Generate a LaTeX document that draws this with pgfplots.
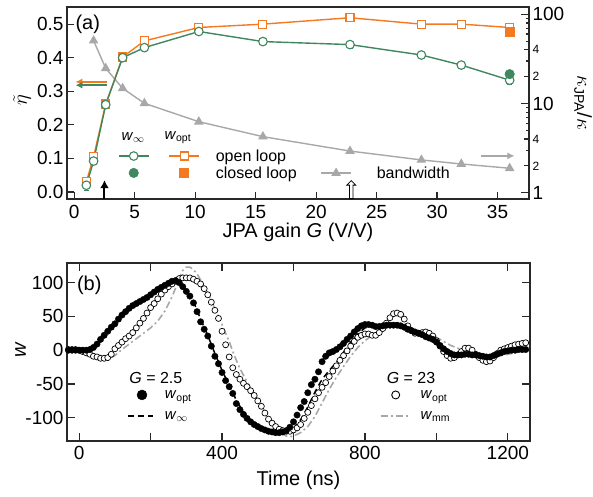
\documentclass[border=0pt]{standalone}
\usepackage{fontspec}
\setmainfont{Liberation Sans}
\usepackage{pgfplots}
\usepackage{pgfplotstable}
\pgfplotsset{compat=1.18}
\usetikzlibrary{arrows.meta,shapes.arrows}
\definecolor{cgreen}{RGB}{62,135,95}
\definecolor{corange}{RGB}{244,121,32}
\definecolor{cgray}{RGB}{168,168,168}
\definecolor{caxis}{RGB}{40,40,40}
\newcommand{\fs}[1]{\fontsize{#1}{#1}\selectfont}

\pgfplotstableread{
G eta err
1.0 0.020 0.015
1.6 0.092 0.010
2.6 0.260 0.008
4.0 0.400 0.008
5.8 0.430 0.010
10.3 0.478 0.008
15.6 0.448 0.008
22.8 0.439 0.010
28.7 0.408 0.010
32.0 0.378 0.008
36.0 0.333 0.012
}\greenopen
\pgfplotstableread{
G eta err
1.0 0.030 0.008
1.6 0.105 0.008
2.6 0.262 0.006
4.0 0.402 0.006
5.8 0.450 0.006
10.3 0.490 0.006
15.6 0.500 0.006
22.8 0.519 0.006
28.7 0.500 0.006
32.0 0.500 0.006
36.0 0.490 0.008
}\orangeopen
\pgfplotstableread{
G k
1.6 50.6
2.6 24.8
4.0 14.8
5.8 10.05
10.3 6.25
15.6 4.25
22.8 2.93
28.7 2.33
32.0 2.10
36.0 1.88
}\bandwidth
\pgfplotstableread{
t w
-30 0
-20 0
-10 0
0 0
10 0
20 0
30 1
40 4
50 9
60 16
70 22
80 28
90 34
100 39
110 46
120 52
130 57
140 62
150 66
160 69
170 72
180 75
190 78
200 82
210 86
220 90
230 93
240 96
250 99
260 102
270 103
280 100
290 94
300 87
310 80
320 70
330 57
340 42
350 31
360 21
370 6
380 -9
390 -20
400 -33
410 -45
420 -54
430 -64
440 -79
450 -88
460 -95
470 -101
480 -106
490 -110
500 -113
510 -116
520 -118
530 -120
540 -121
550 -122
560 -122
570 -121
580 -119
590 -114
600 -106
610 -96
620 -85
630 -76
640 -63
650 -51
660 -43
670 -32
680 -17
690 -9
700 -4
710 -2
720 1
730 5
740 10
750 16
760 21
770 27
780 32
790 36
800 38
810 38
820 37
830 35
840 35
850 36
860 37
870 37
880 37
890 37
900 36
910 34
920 31
930 29
940 27
950 25
960 23
970 20
980 18
990 16
1000 12
1010 7
1020 2
1030 -2
1040 -5
1050 -7
1060 -7
1070 -7
1080 -6
1090 -6
1100 -7
1110 -7
1120 -8
1130 -9
1140 -10
1150 -10
1160 -8
1170 -6
1180 -4
1190 -2
1200 -1
1210 0
1220 0
1230 1
1240 1
1250 1
}\wopta
\pgfplotstableread{
t w
-30 1
-20 1
-10 1
0 0
10 -2
20 -4
30 -6
40 -9
50 -10
60 -12
70 -12
80 -11
90 -6
100 2
110 7
120 12
130 17
140 21
150 26
160 33
170 40
180 47
190 55
200 63
210 69
220 76
230 83
240 89
250 94
260 98
270 102
280 106
290 107
300 107
310 107
320 105
330 102
340 98
350 91
360 82
370 71
380 59
390 47
400 28
410 8
420 -10
430 -26
440 -36
450 -43
460 -49
470 -54
480 -60
490 -67
500 -75
510 -83
520 -93
530 -102
540 -108
550 -113
560 -117
570 -119
580 -120
590 -120
600 -118
610 -115
620 -110
630 -101
640 -92
650 -82
660 -72
670 -63
680 -55
690 -48
700 -39
710 -31
720 -23
730 -15
740 -8
750 -1
760 6
770 13
780 19
790 22
800 24
810 24
820 22
830 22
840 26
850 32
860 40
870 48
880 54
890 55
900 53
910 46
920 36
930 29
940 25
950 25
960 26
970 27
980 25
990 21
1000 14
1010 6
1020 -2
1030 -8
1040 -12
1050 -11
1060 -7
1070 -2
1080 3
1090 3
1100 0
1110 -6
1120 -11
1130 -15
1140 -17
1150 -16
1160 -11
1170 -5
1180 0
1190 2
1200 4
1210 6
1220 8
1230 9
1240 10
1250 11
}\woptb
\pgfplotstableread{
t w
-30 0
0 0
20 0
40 3
60 14
80 28
100 39
120 51
140 62
160 69
180 75
200 82
220 90
240 96
260 101
280 100
300 88
320 72
340 46
360 22
380 -5
400 -30
420 -52
440 -74
460 -92
480 -104
500 -112
520 -117
540 -121
560 -123
580 -122
600 -116
620 -103
640 -84
660 -62
680 -43
700 -30
720 -18
740 -3
760 12
780 24
800 33
820 36
840 35
860 36
880 36
900 35
920 31
940 27
960 23
980 18
1000 13
1020 5
1040 -2
1060 -6
1080 -6
1100 -7
1120 -8
1140 -9
1160 -8
1180 -4
1200 -1
1220 0
1250 1
}\winf
\pgfplotstableread{
t w
-30 0
0 -1
20 -5
40 -10
60 -13
80 -14
100 -8
120 1
140 9
160 17
180 25
200 33
220 43
240 58
260 79
270 92
280 106
290 118
300 123
310 123
320 119
330 113
340 104
350 94
360 84
370 73
380 61
390 50
400 38
410 25
420 13
430 -2
440 -15
450 -27
460 -37
470 -47
480 -57
490 -66
500 -75
510 -83
520 -91
530 -98
540 -105
550 -112
560 -119
570 -124
580 -127
590 -128
600 -127
620 -122
640 -113
660 -98
680 -78
700 -58
720 -40
740 -24
760 -9
780 4
800 14
820 22
840 28
860 33
880 36
900 36
920 34
940 30
960 26
980 23
1000 19
1020 13
1040 7
1060 3
1080 0
1100 -2
1120 -5
1140 -8
1160 -10
1180 -8
1200 -6
1220 -4
1240 -2
1250 -1
}\wmm

\pgfplotsset{
  myaxis/.style={
    scale only axis,
    axis line style={caxis, line width=1.2pt},
    tick style={caxis, line width=1.2pt},
    tick align=inside,
    tick label style={font=\fs{19}},
    label style={font=\fs{20}},
    /pgf/number format/assume math mode=true,
  },
}

\begin{document}
\begin{tikzpicture}
\path[use as bounding box] (0pt,0pt) rectangle (593pt,-496pt);

% ---------- panel (a), right log axis ----------
\begin{axis}[myaxis,
  at={(67pt,-7pt)}, anchor=north west, width=462pt, height=192pt,
  xmin=-0.6, xmax=37.6, ymode=log, ymin=0.85, ymax=120.7,
  axis x line=none, axis y line*=right,
  ytick={1,10,100}, yticklabels={1,10,100},
  minor ytick={3,5,6,7,8,9,30,50,60,70,80,90},
  major tick length=8pt, minor tick length=3.5pt,
  extra y ticks={2,4,20,40}, extra y tick labels={2,4,2,4},
  extra y tick style={major tick length=5pt, tick label style={font=\fs{12}}},
  ylabel={$\kappa$\textsubscript{JPA}/$\kappa$},
  ylabel style={at={(axis description cs:1.117,0.5)}, anchor=center, rotate=180},
  legend style={at={(axis description cs:0.548,0.166)}, anchor=north west,
    draw=none, fill=none, inner sep=0pt, font=\fs{16},
    nodes={inner sep=0pt, text depth=0pt}},
  legend cell align=left,
]
\addplot[cgray, line width=1.4pt, mark=triangle*, mark size=4.2pt, forget plot] table[x=G, y=k] {\bandwidth};
\addlegendimage{cgray, line width=1.4pt, mark=triangle*, mark size=4.2pt,
  legend image code/.code={\draw[mark repeat=2, mark phase=2] plot coordinates {(0pt,0pt) (15pt,0pt) (30pt,0pt)};}}
\addlegendentry{\hspace*{25pt}bandwidth}
\end{axis}

% ---------- panel (a), left axis ----------
\begin{axis}[myaxis,
  at={(67pt,-7pt)}, anchor=north west, width=462pt, height=192pt,
  xmin=-0.6, xmax=37.6, ymin=-0.021, ymax=0.551,
  xtick={0,5,...,35}, xticklabels={0,5,10,15,20,25,30,35},
  ytick={0,0.1,...,0.5}, yticklabels={0.0,0.1,0.2,0.3,0.4,0.5},
  xtick pos=bottom, ytick pos=left, major tick length=7pt,
  xticklabel style={yshift=-3pt},
  xlabel={JPA gain \textit{G} (V/V)},
  xlabel style={at={(axis description cs:0.5,-0.172)}, anchor=center},
  ylabel={$\tilde{\eta}$},
  ylabel style={at={(axis description cs:-0.097,0.516)}, anchor=center},
  legend columns=3,
  legend style={at={(axis description cs:0.110,0.255)}, anchor=north west,
    draw=none, fill=none, inner sep=0pt, font=\fs{16}, row sep=5.3pt,
    nodes={inner sep=0pt, text depth=0pt}},
  legend cell align=left,
]
\addplot[corange, line width=1.4pt, mark=square*, mark size=4pt,
  mark options={fill=white, line width=1.1pt}, forget plot,
  error bars/.cd, y dir=both, y explicit,
  error bar style={line width=0.8pt},
  error mark options={rotate=90, mark size=2.5pt, line width=0.8pt}]
  table[x=G, y=eta, y error=err] {\orangeopen};
\addplot[cgreen, line width=1.4pt, mark=*, mark size=4.3pt,
  mark options={fill=white, line width=1.1pt}, forget plot,
  error bars/.cd, y dir=both, y explicit,
  error bar style={line width=0.8pt},
  error mark options={rotate=90, mark size=2.5pt, line width=0.8pt}]
  table[x=G, y=eta, y error=err] {\greenopen};
\addplot[corange, only marks, mark=square*, mark size=4.8pt, forget plot] coordinates {(36.0,0.478)};
\addplot[cgreen, only marks, mark=*, mark size=4.8pt, forget plot] coordinates {(36.0,0.351)};
% annotation arrows
\draw[corange, line width=1.8pt, -{Latex[length=7pt,width=7pt]}] (axis cs:2.7,0.328) -- (axis cs:0.1,0.328);
\draw[cgreen, line width=1.8pt, -{Latex[length=7pt,width=7pt]}] (axis cs:2.7,0.318) -- (axis cs:0.1,0.318);
\draw[cgray, line width=1.8pt, -{Latex[length=7pt,width=7pt]}] (axis cs:33.6,0.1075) -- (axis cs:36.4,0.1075);
\draw[black, line width=2pt, -{Latex[length=8pt,width=9pt]}] (axis cs:2.5,-0.021) -- (axis cs:2.5,0.035);
\node[single arrow, draw=black, fill=white, line width=0.8pt, rotate=90,
  minimum height=18pt, inner sep=1.3pt, single arrow head extend=2.8pt,
  anchor=tail] at (axis cs:22.9,-0.021) {};
% legend
\addlegendimage{cgreen, line width=1.4pt, mark=*, mark size=4.3pt, mark options={fill=white, line width=1.1pt},
  legend image code/.code={\draw[mark repeat=2, mark phase=2] plot coordinates {(0pt,0pt) (15pt,0pt) (30pt,0pt)};}}
\addlegendentry{\hspace*{19pt}}
\addlegendimage{corange, line width=1.4pt, mark=square*, mark size=4pt, mark options={fill=white, line width=1.1pt},
  legend image code/.code={\draw[mark repeat=2, mark phase=2] plot coordinates {(0pt,0pt) (15pt,0pt) (30pt,0pt)};}}
\addlegendentry{\hspace*{16pt}}
\addlegendimage{empty legend}
\addlegendentry{open loop}
\addlegendimage{cgreen, mark=*, mark size=4.8pt,
  legend image code/.code={\path[draw=none] (0pt,0pt) -- (30pt,0pt); \draw plot coordinates {(15pt,0pt)};}}
\addlegendentry{\hspace*{19pt}}
\addlegendimage{corange, mark=square*, mark size=4.5pt,
  legend image code/.code={\path[draw=none] (0pt,0pt) -- (30pt,0pt); \draw plot coordinates {(15pt,0pt)};}}
\addlegendentry{\hspace*{16pt}}
\addlegendimage{empty legend}
\addlegendentry{closed loop}
\node[font=\fs{15}] at (axis description cs:0.143,0.318) {\textit{w}\textsubscript{$\infty$}};
\node[font=\fs{15}] at (axis description cs:0.240,0.318) {\textit{w}\textsubscript{opt}};
\node[font=\fs{20}] at (axis description cs:0.045,0.911) {(a)};
\end{axis}

% ---------- panel (b) ----------
\begin{axis}[myaxis,
  at={(67pt,-263pt)}, anchor=north west, width=463pt, height=178pt,
  xmin=-34, xmax=1262, ymin=-134.4, ymax=129,
  xtick={0,200,...,1200}, xticklabels={0,,400,,800,,1200},
  ytick={-100,-50,0,50,100}, yticklabels={-100,-50,0,50,100},
  major tick length=8pt,
  xticklabel style={yshift=-2pt},
  xlabel={Time (ns)},
  xlabel style={at={(axis description cs:0.5,-0.22)}, anchor=center},
  ylabel={\textit{w}},
  ylabel style={at={(axis description cs:-0.10,0.51)}, anchor=center},
  legend columns=2,
  legend style={at={(axis description cs:0.1296,0.288)}, anchor=north west,
    draw=none, fill=none, inner sep=0pt, font=\fs{15}, row sep=11.8pt,
    nodes={inner sep=0pt, text depth=0pt}},
  legend cell align=left,
]
\addplot[cgray, line width=1.6pt, dash pattern=on 7pt off 3pt on 2pt off 3pt, forget plot] table[x=t, y=w] {\wmm};
\addplot[black, line width=1.5pt, dash pattern=on 6pt off 4pt, forget plot] table[x=t, y=w] {\winf};
\addplot[black, only marks, mark=*, mark size=3pt, mark options={fill=white, line width=0.7pt}, forget plot] table[x=t, y=w] {\woptb};
\addplot[black, only marks, mark=*, mark size=3.2pt, forget plot] table[x=t, y=w] {\wopta};
\addlegendimage{black, mark=*, mark size=5pt,
  legend image code/.code={\path[draw=none] (0pt,0pt) -- (25pt,0pt); \draw plot coordinates {(14pt,0pt)};}}
\addlegendentry{\makebox[226pt][l]{\hspace*{11pt}\textit{w}\textsubscript{opt}}}
\addlegendimage{black, mark=*, mark size=4pt, mark options={fill=white, line width=0.9pt},
  legend image code/.code={\path[draw=none] (0pt,0pt) -- (30pt,0pt); \draw plot coordinates {(15pt,0pt)};}}
\addlegendentry{\hspace*{9pt}\textit{w}\textsubscript{opt}}
\addlegendimage{black, line width=1.6pt, dash pattern=on 6pt off 4pt,
  legend image code/.code={\draw[line width=1.6pt, dash pattern=on 6pt off 4pt] (0pt,0pt) -- (25pt,0pt);}}
\addlegendentry{\makebox[226pt][l]{\hspace*{11pt}\textit{w}\textsubscript{$\infty$}}}
\addlegendimage{cgray, line width=1.8pt, dash pattern=on 7pt off 3pt on 2pt off 3pt,
  legend image code/.code={\draw[cgray, line width=1.8pt, dash pattern=on 7pt off 3pt on 2pt off 3pt] (0pt,0pt) -- (30pt,0pt);}}
\addlegendentry{\hspace*{9pt}\textit{w}\textsubscript{mm}}
\node[font=\fs{16}] at (axis description cs:0.192,0.354) {\textit{G} = 2.5};
\node[font=\fs{16}] at (axis description cs:0.743,0.354) {\textit{G} = 23};
\node[font=\fs{20}] at (axis description cs:0.048,0.876) {(b)};
\end{axis}
\end{tikzpicture}
\end{document}
